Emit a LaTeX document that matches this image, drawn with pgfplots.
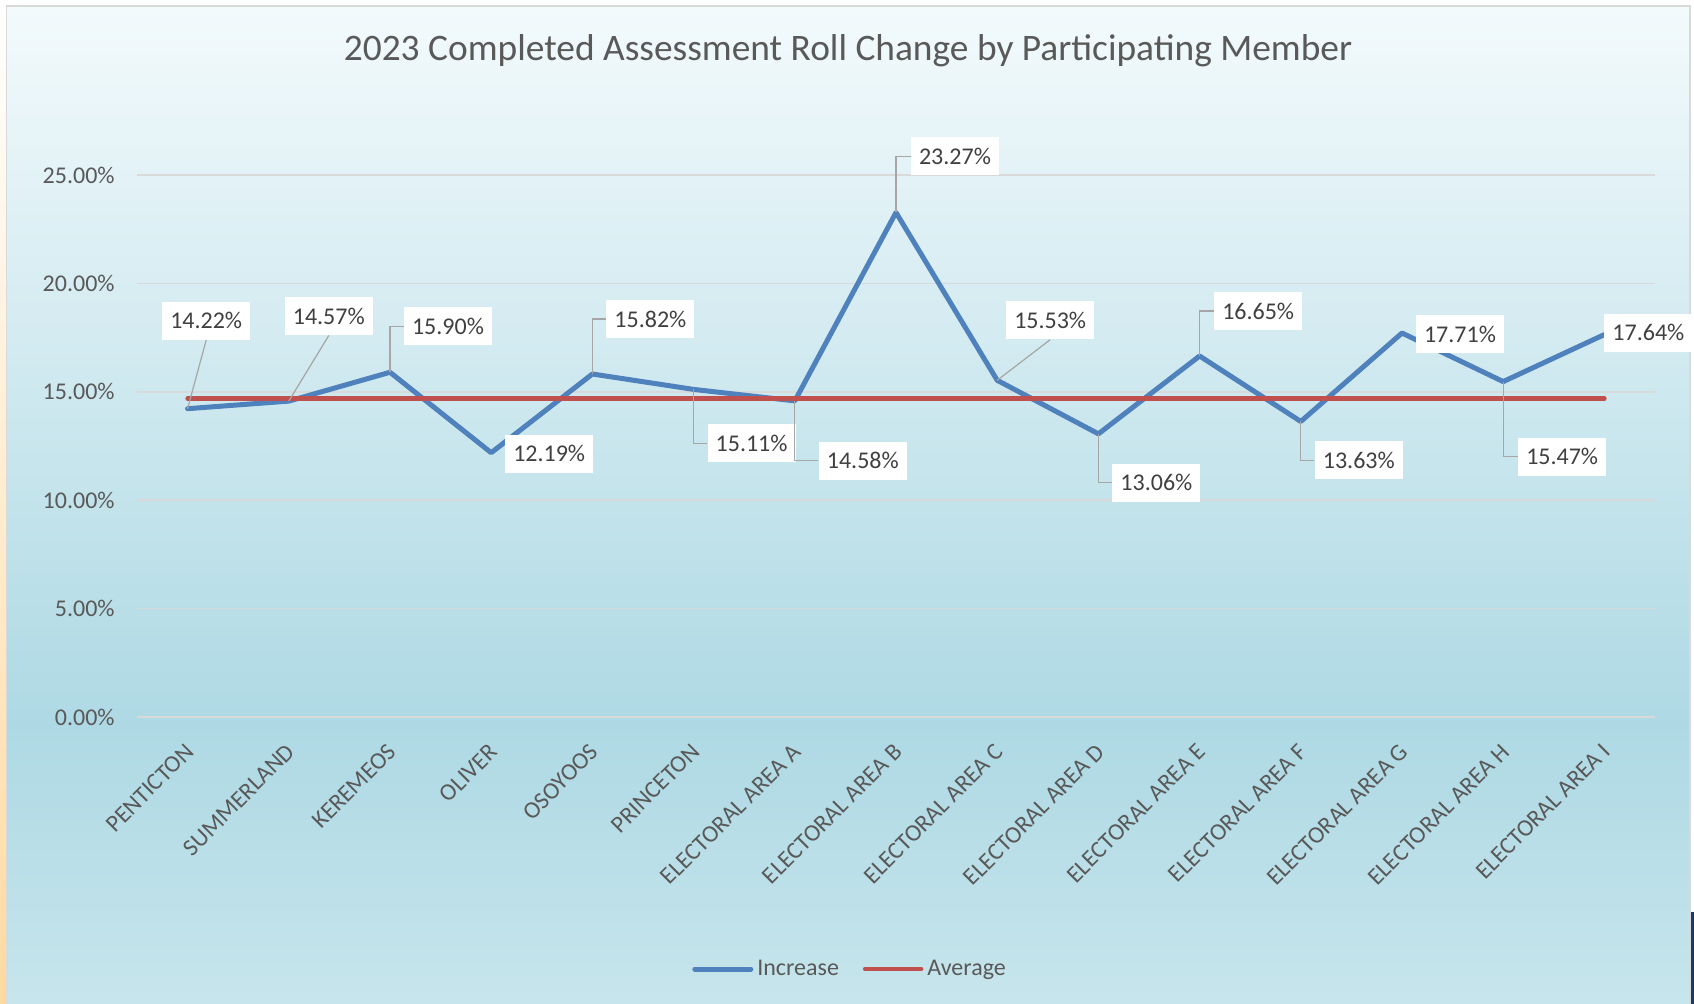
\documentclass[border=0pt]{standalone}
\usepackage{pgfplots}
\pgfplotsset{compat=1.18}
\usepackage{pgfplotstable}
\usepackage{fontspec}
\setmainfont{Carlito}

\definecolor{incblue}{RGB}{79,129,189}
\definecolor{avgred}{RGB}{192,80,77}
\definecolor{txtgray}{RGB}{89,89,89}
\definecolor{lblgray}{RGB}{64,64,64}
\definecolor{leadgray}{RGB}{166,166,166}
\definecolor{gridgray}{RGB}{217,217,217}
\definecolor{bgtop}{RGB}{243,250,252}
\definecolor{bgmid}{RGB}{174,217,228}
\definecolor{bgbot}{RGB}{199,229,236}
\definecolor{peach}{RGB}{255,218,160}
\definecolor{navy}{RGB}{31,56,100}

\pgfdeclareverticalshading{chartbg}{100bp}{color(0bp)=(bgbot); color(25bp)=(bgbot); color(39bp)=(bgmid); color(75bp)=(bgtop); color(100bp)=(bgtop)}
\pgfdeclareverticalshading{edgebg}{100bp}{color(0bp)=(peach); color(25bp)=(peach); color(75bp)=(white); color(100bp)=(white)}

\pgfplotstableread{
x y
0 14.22
1 14.57
2 15.90
3 12.19
4 15.82
5 15.11
6 14.58
7 23.27
8 15.53
9 13.06
10 16.65
11 13.63
12 17.71
13 15.47
14 17.64
}\increase

% data label: x, value, dx, dy
\newcommand\dlab[4]{\node[dlabel, xshift=#3, yshift=#4] (L#1) at (axis cs:#1,#2) {#2\%};}
\newcommand\lelbow[2]{\draw[leader] (axis cs:#1,#2) |- (L#1.west);}
\newcommand\ldiag[2]{\draw[leader] (axis cs:#1,#2) -- (L#1.south);}

\begin{document}
\begin{tikzpicture}[
    dlabel/.style={fill=white, text=lblgray, font=\fontsize{12}{14}\selectfont,
        inner xsep=4pt, inner ysep=0pt, minimum height=19pt},
    leader/.style={draw=leadgray, line width=0.6pt}]

% background
\fill[white] (-68.5pt,-143.5pt) rectangle (778.5pt,358.5pt);
\shade[shading=edgebg] (-68.5pt,-143.5pt) rectangle (-65.25pt,358.5pt);
\fill[navy] (776.5pt,-143.5pt) rectangle (778.5pt,-97.5pt);
\shade[shading=chartbg] (-65.25pt,-143.5pt) rectangle (776.5pt,355.5pt);
\draw[gridgray, line width=0.75pt] (-65.25pt,-143.5pt) -- (-65.25pt,355.5pt) -- (776.5pt,355.5pt) -- (776.5pt,-143.5pt);

\node[text=txtgray, font=\fontsize{18.7}{22}\selectfont] at (355.5pt,333pt)
    {2023 Completed Assessment Roll Change by Participating Member};

\begin{axis}[
    scale only axis,
    width=759pt, height=271pt,
    xmin=-0.5, xmax=14.5,
    ymin=0, ymax=25,
    clip=false,
    axis line style={draw=none},
    major tick length=0pt,
    ymajorgrids,
    grid style={gridgray, line width=0.75pt},
    ytick={0,5,10,15,20,25},
    yticklabel={\pgfmathprintnumber[assume math mode=true,fixed,fixed zerofill,precision=2]{\tick}\%},
    xtick={0,...,14},
    xticklabels={PENTICTON,SUMMERLAND,KEREMEOS,OLIVER,OSOYOOS,PRINCETON,ELECTORAL AREA A,ELECTORAL AREA B,ELECTORAL AREA C,ELECTORAL AREA D,ELECTORAL AREA E,ELECTORAL AREA F,ELECTORAL AREA G,ELECTORAL AREA H,ELECTORAL AREA I},
    tick label style={font=\fontsize{12}{14}\selectfont, text=txtgray},
    yticklabel style={anchor=east, inner sep=0pt, xshift=-11pt},
    xticklabel style={yshift=-12.5pt, xshift=-1.8pt, rotate=45, anchor=north east, inner sep=0pt},
    legend style={at={(0.4704,-0.465)}, anchor=center, draw=none, fill=none,
        legend columns=2, font=\fontsize{12}{14}\selectfont, text=txtgray,
        /tikz/every even column/.append style={column sep=10pt}},
    legend image code/.code={\draw[#1, line cap=round] (0pt,0pt) -- (28pt,0pt);},
]
\addplot[incblue, line width=2.5pt, line join=round, line cap=round] table[x=x, y=y] {\increase};
\addlegendentry{Increase}
\addplot[avgred, line width=2.25pt, line cap=round] coordinates {(0,14.68) (14,14.68)};
\addlegendentry{Average}

\dlab{0}{14.22}{9.3pt}{44pt}
\dlab{1}{14.57}{20pt}{42.5pt}
\dlab{2}{15.90}{29pt}{23pt}
\dlab{3}{12.19}{29pt}{-0.5pt}
\dlab{4}{15.82}{29pt}{27.5pt}
\dlab{5}{15.11}{29pt}{-27pt}
\dlab{6}{14.58}{34pt}{-30pt}
\dlab{7}{23.27}{29.5pt}{28pt}
\dlab{8}{15.53}{26.5pt}{30pt}
\dlab{9}{13.06}{29pt}{-24.5pt}
\dlab{10}{16.65}{29.3pt}{22.5pt}
\dlab{11}{13.63}{29pt}{-19.5pt}
\dlab{12}{17.71}{29pt}{-0.5pt}
\dlab{13}{15.47}{29.5pt}{-37.5pt}
\dlab{14}{17.64}{22pt}{1pt}

\ldiag{0}{14.22}
\ldiag{1}{14.57}
\lelbow{2}{15.90}
\lelbow{4}{15.82}
\lelbow{5}{15.11}
\lelbow{6}{14.58}
\lelbow{7}{23.27}
\ldiag{8}{15.53}
\lelbow{9}{13.06}
\lelbow{10}{16.65}
\lelbow{11}{13.63}
\lelbow{13}{15.47}
\end{axis}

\pgfresetboundingbox
\path (-68.5pt,-143.5pt) rectangle (778.5pt,358.5pt);
\end{tikzpicture}
\end{document}
